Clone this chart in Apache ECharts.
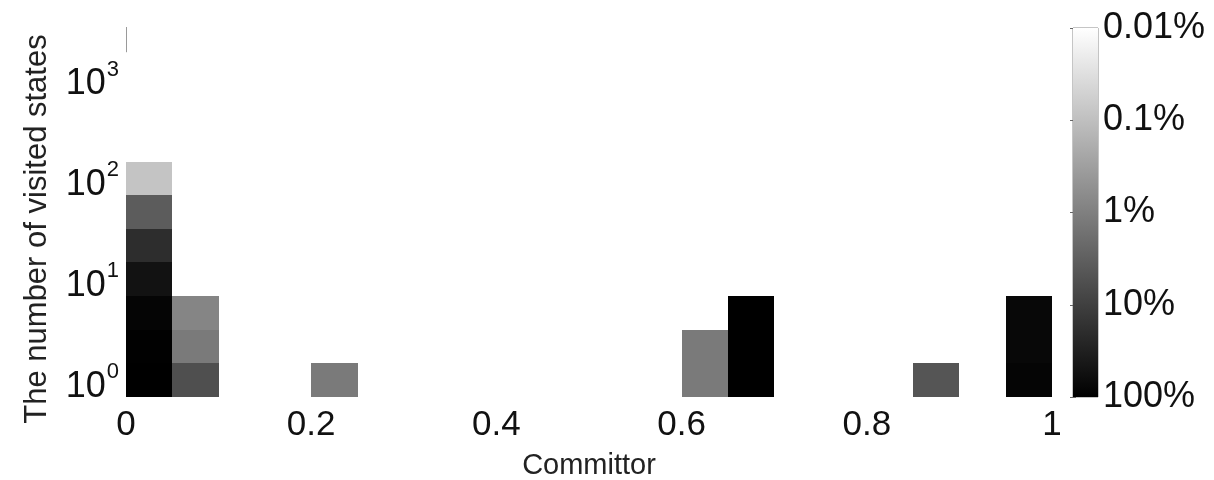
<!DOCTYPE html>
<html>
<head>
<meta charset="utf-8">
<script src="https://cdn.jsdelivr.net/npm/echarts@6/dist/echarts.min.js"></script>
<style>
  html, body { margin: 0; padding: 0; background: #fff; }
  #chart { width: 1214px; height: 480px; }
</style>
</head>
<body>
<div id="chart"></div>
<script>
// 2-D histogram: committor bin (x) vs. number of visited states (log bins, 3 per decade)
// Each cell: left edge of its committor bin, bin-centre visit count, share in percent.
const committorBin = [0, 0, 0, 0, 0, 0, 0, 0.05, 0.05, 0.05, 0.2, 0.6, 0.6, 0.65, 0.65, 0.65, 0.85, 0.95, 0.95, 0.95];
const visitedCount = [1, 2.154, 4.642, 10, 21.54, 46.42, 100, 1, 2.154, 4.642, 1, 1, 2.154, 1, 2.154, 4.642, 1, 1, 2.154, 4.642];
const cellPercent  = [100, 96, 84, 52, 20, 3.6, 0.085, 5.8, 1.2, 0.82, 1.2, 1.2, 1.2, 100, 100, 100, 4.6, 84, 76, 74];

const xTickValues = [0, 0.2, 0.4, 0.6, 0.8, 1];
const yTickExponents = [0, 1, 2, 3];
const colorbarExponents = [-2, -1, 0, 1, 2];
const colorbarLabels = ['0.01%', '0.1%', '1%', '10%', '100%'];

const BIN_WIDTH = 0.05;        // committor bin width
const ROW_HALF = 1 / 6;        // half of a log10 bin (three bins per decade)

const cells = committorBin.map((x, i) => [
  x,
  Math.log10(visitedCount[i]),
  cellPercent[i],
  Math.log10(cellPercent[i])
]);

const FONT = '"Liberation Sans", Arial, Helvetica, sans-serif';
const TEXT = '#111';

const chart = echarts.init(document.getElementById('chart'), null, { renderer: 'canvas' });

chart.setOption({
  animation: false,
  backgroundColor: '#fff',
  grid: [
    { left: 126, right: 162, top: 27, bottom: 83, containLabel: false, outerBoundsMode: 'none' },
    { left: 1073, width: 25, top: 28, height: 369, show: true, borderColor: '#8a8a8a', borderWidth: 1,
      backgroundColor: 'transparent', containLabel: false, outerBoundsMode: 'none' }
  ],
  visualMap: {
    show: false,
    type: 'continuous',
    seriesIndex: 0,
    dimension: 3,
    min: -2,
    max: 2,
    inRange: { color: ['#ffffff', '#000000'] }
  },
  xAxis: [
    {
      gridIndex: 0,
      type: 'value',
      min: 0,
      max: 1,
      interval: 0.2,
      name: 'Committor',
      nameLocation: 'middle',
      nameGap: 54,
      nameTextStyle: { fontFamily: FONT, fontSize: 29, color: '#222' },
      axisLine: { show: false },
      axisTick: { show: false },
      splitLine: { show: false },
      axisLabel: {
        customValues: xTickValues,
        margin: 11,
        fontFamily: FONT,
        fontSize: 35,
        color: TEXT,
        formatter: v => String(v)
      }
    },
    {
      gridIndex: 1,
      type: 'value',
      min: 0,
      max: 1,
      show: false
    }
  ],
  yAxis: [
    {
      gridIndex: 0,
      type: 'value',
      min: -ROW_HALF,
      max: 3.5,
      name: 'The number of visited states',
      nameLocation: 'middle',
      nameRotate: 90,
      nameGap: 73,
      nameTextStyle: { fontFamily: FONT, fontSize: 31, color: '#222', padding: [0, 34, 0, 0] },
      axisLine: { show: false },
      axisTick: { show: false },
      splitLine: { show: false },
      axisLabel: {
        customValues: yTickExponents,
        margin: 7,
        formatter: v => '{b|10}{s|' + v + '}',
        rich: {
          b: { fontFamily: FONT, fontSize: 36, color: TEXT, padding: [14, 0, 0, 0] },
          s: { fontFamily: FONT, fontSize: 22, color: TEXT, padding: [0, 0, 16, 1] }
        }
      }
    },
    {
      gridIndex: 1,
      type: 'value',
      min: -2,
      max: 2,
      interval: 1,
      inverse: true,
      position: 'right',
      axisLine: { show: false },
      splitLine: { show: false },
      axisTick: { show: true, inside: true, length: 3, lineStyle: { color: '#666' } },
      axisLabel: {
        margin: 5,
        fontFamily: FONT,
        fontSize: 36,
        color: TEXT,
        formatter: v => colorbarLabels[colorbarExponents.indexOf(Math.round(v))]
      }
    },
    {
      gridIndex: 1,
      type: 'value',
      min: -2,
      max: 2,
      interval: 1,
      inverse: true,
      position: 'left',
      axisLine: { show: false },
      splitLine: { show: false },
      axisTick: { show: true, inside: true, length: 3, lineStyle: { color: '#666' } },
      axisLabel: { show: false }
    }
  ],
  series: [
    {
      type: 'custom',
      xAxisIndex: 0,
      yAxisIndex: 0,
      data: cells,
      encode: { x: 0, y: 1 },
      renderItem: (params, api) => {
        const x0 = api.value(0);
        const y = api.value(1);
        const p0 = api.coord([x0, y + ROW_HALF]).map(Math.round);
        const p1 = api.coord([x0 + BIN_WIDTH, y - ROW_HALF]).map(Math.round);
        return {
          type: 'rect',
          shape: { x: p0[0], y: p0[1], width: p1[0] - p0[0], height: p1[1] - p0[1] },
          style: { fill: api.visual('color'), stroke: null }
        };
      },
      markLine: {
        silent: true,
        symbol: 'none',
        label: { show: false },
        lineStyle: { color: '#9a9a9a', width: 1, type: 'solid' },
        data: [[{ coord: [0, 3.5] }, { coord: [0, 3.25] }]]
      }
    },
    {
      // colour bar: log10(percent) from -2 (white) to 2 (black)
      type: 'custom',
      xAxisIndex: 1,
      yAxisIndex: 1,
      data: [[0, -2, 1, 2]],
      renderItem: (params, api) => {
        const p0 = api.coord([api.value(0), api.value(1)]);
        const p1 = api.coord([api.value(2), api.value(3)]);
        return {
          type: 'rect',
          shape: { x: p0[0], y: p0[1], width: p1[0] - p0[0], height: p1[1] - p0[1] },
          style: {
            fill: new echarts.graphic.LinearGradient(0, 0, 0, 1, [
              { offset: 0, color: '#ffffff' },
              { offset: 1, color: '#000000' }
            ])
          }
        };
      }
    }
  ]
});
</script>
</body>
</html>
